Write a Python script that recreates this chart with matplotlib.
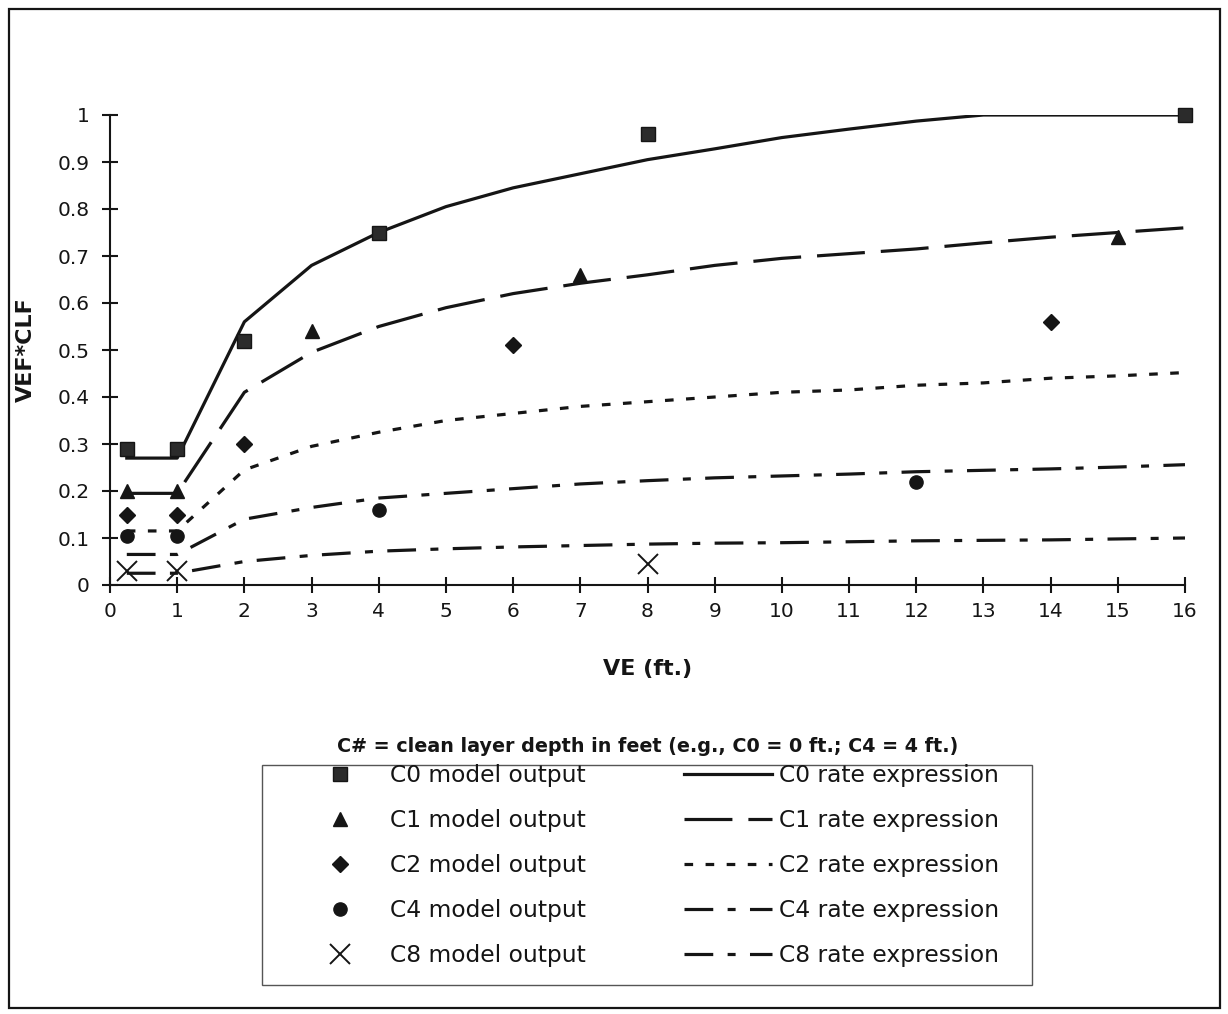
import matplotlib.pyplot as plt
from matplotlib.patches import Rectangle

# rate expression curves, sampled at these VE values
ve = [0.25, 1, 2, 3, 4, 5, 6, 7, 8, 9, 10, 11, 12, 13, 14, 15, 16]
c0_rate = [0.27, 0.27, 0.56, 0.68, 0.75, 0.805, 0.845, 0.875, 0.905, 0.928, 0.952, 0.97, 0.987, 1.0, 1.0, 1.0, 1.0]
c1_rate = [0.195, 0.195, 0.41, 0.495, 0.55, 0.59, 0.62, 0.642, 0.66, 0.68, 0.695, 0.705, 0.715, 0.728, 0.74, 0.75, 0.76]
c2_rate = [0.115, 0.115, 0.245, 0.295, 0.325, 0.35, 0.365, 0.38, 0.39, 0.40, 0.41, 0.415, 0.425, 0.43, 0.44, 0.445, 0.452]
c4_rate = [0.065, 0.065, 0.14, 0.165, 0.185, 0.195, 0.205, 0.215, 0.222, 0.228, 0.232, 0.236, 0.241, 0.244, 0.247, 0.251, 0.256]
c8_rate = [0.025, 0.025, 0.05, 0.063, 0.072, 0.077, 0.081, 0.084, 0.087, 0.089, 0.09, 0.092, 0.094, 0.095, 0.096, 0.098, 0.1]

# model output points
c0_x = [0.25, 1, 2, 4, 8, 16]
c0_y = [0.29, 0.29, 0.52, 0.75, 0.96, 1.0]
c1_x = [0.25, 1, 3, 7, 15]
c1_y = [0.20, 0.20, 0.54, 0.66, 0.74]
c2_x = [0.25, 1, 2, 6, 14]
c2_y = [0.15, 0.15, 0.30, 0.51, 0.56]
c4_x = [0.25, 1, 4, 12]
c4_y = [0.105, 0.105, 0.16, 0.22]
c8_x = [0.25, 1, 8]
c8_y = [0.03, 0.03, 0.045]

ink = "#151515"
W, H = 1228, 1014

fig = plt.figure(figsize=(12.28, 10.14), dpi=100)
# outer chart border
fig.patches.append(Rectangle((9 / W, 6 / H), 1211 / W, 999 / H,
                             transform=fig.transFigure, fill=False,
                             edgecolor=ink, linewidth=1.6))
# legend box
fig.patches.append(Rectangle((262 / W, 1 - 985 / H), 770 / W, 220 / H,
                             transform=fig.transFigure, fill=False,
                             edgecolor="#555555", linewidth=1.0))

ax = fig.add_axes([110 / W, 1 - 585 / H, 1075 / W, 470 / H])

lw = 2.3
l0, = ax.plot(ve, c0_rate, color=ink, lw=lw, linestyle="-", label="C0 rate expression")
l1, = ax.plot(ve, c1_rate, color=ink, lw=lw, linestyle=(0, (15, 5)), label="C1 rate expression")
l2, = ax.plot(ve, c2_rate, color=ink, lw=lw, linestyle=(0, (2.7, 3.9)), label="C2 rate expression")
l4, = ax.plot(ve, c4_rate, color=ink, lw=lw, linestyle=(0, (9, 4.5, 2.5, 4.5)), label="C4 rate expression")
l8, = ax.plot(ve, c8_rate, color=ink, lw=lw, linestyle=(0, (9, 4.5, 2.5, 4.5)), label="C8 rate expression")

ms = 9.5
p0, = ax.plot(c0_x, c0_y, "s", ms=ms, color="#2b2b2b", mec=ink, clip_on=False, label="C0 model output")
p1, = ax.plot(c1_x, c1_y, "^", ms=ms, color=ink, clip_on=False, label="C1 model output")
p2, = ax.plot(c2_x, c2_y, "D", ms=8, color=ink, clip_on=False, label="C2 model output")
p4, = ax.plot(c4_x, c4_y, "o", ms=ms, color=ink, clip_on=False, label="C4 model output")
p8, = ax.plot(c8_x, c8_y, "x", ms=14, mew=1.4, color=ink, clip_on=False, label="C8 model output")

ax.set_xlim(0, 16)
ax.set_ylim(0, 1)
ax.set_xticks(range(0, 17))
ax.set_yticks([0, 0.1, 0.2, 0.3, 0.4, 0.5, 0.6, 0.7, 0.8, 0.9, 1])
ax.set_yticklabels(["0", "0.1", "0.2", "0.3", "0.4", "0.5", "0.6", "0.7", "0.8", "0.9", "1"])
for side in ["top", "right"]:
    ax.spines[side].set_visible(False)
for side in ["left", "bottom"]:
    ax.spines[side].set_linewidth(1.5)
    ax.spines[side].set_color(ink)
ax.tick_params(direction="inout", length=11, width=1.5, color=ink,
               labelsize=14.5, labelcolor=ink)
ax.tick_params(axis="y", pad=9)
ax.tick_params(axis="x", pad=7)

ax.set_xlabel("VE (ft.)", fontsize=16, fontweight="bold", color=ink, labelpad=27)
ax.set_ylabel("VEF*CLF", fontsize=16, fontweight="bold", color=ink, labelpad=16)

fig.text(648 / W, 1 - 746 / H,
         "C# = clean layer depth in feet (e.g., C0 = 0 ft.; C4 = 4 ft.)",
         ha="center", va="center", fontsize=13.8, fontweight="bold", color=ink)

handles = [p0, p1, p2, p4, p8, l0, l1, l2, l4, l8]
leg = fig.legend(handles=handles, labels=[h.get_label() for h in handles],
                 ncol=2, loc="upper left",
                 bbox_to_anchor=(296 / W, 1 - 764 / H),
                 frameon=False, fontsize=16.8, handlelength=3.75,
                 handletextpad=0.3, columnspacing=4.2, labelspacing=0.94,
                 borderpad=0, borderaxespad=0, numpoints=1)
for t in leg.get_texts():
    t.set_color(ink)

fig.savefig("out.png", dpi=100, facecolor="white")
